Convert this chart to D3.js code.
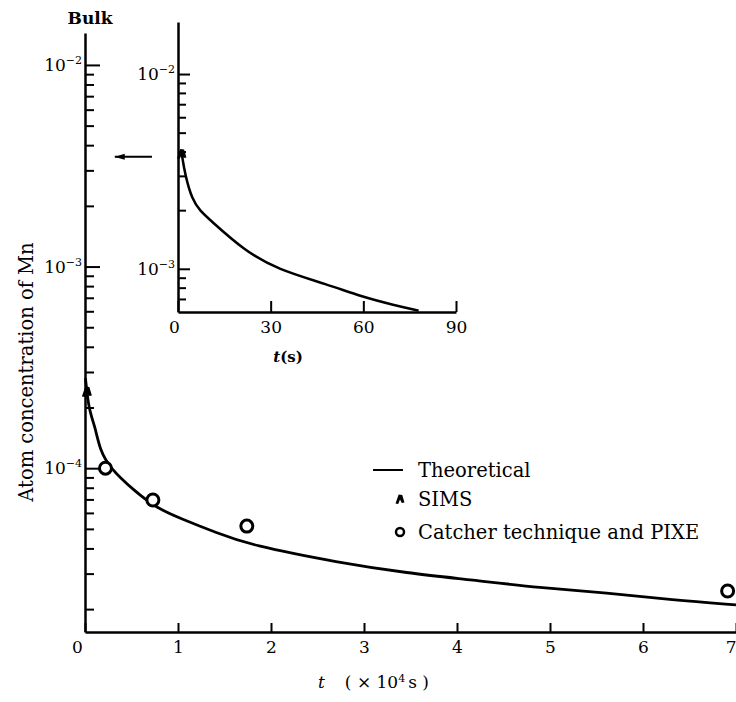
<!DOCTYPE html>
<html>
<head>
<meta charset="utf-8">
<script src="https://cdn.jsdelivr.net/npm/d3@7"></script>
<style>
  body { margin: 0; background: #fff; }
  svg { display: block; font-family: "DejaVu Serif", serif; }
  .domain { stroke: #000; stroke-width: 2.5; }
  .tick line { stroke: #000; stroke-width: 2; }
  .tick text { font-family: "DejaVu Serif", serif; font-size: 17px; fill: #000; }
</style>
</head>
<body>
<svg width="736" height="702"></svg>
<script>
// main plot: t in units of 10^4 s, atom concentration of Mn
const mainT = [0.005, 0.04, 0.11, 0.16, 0.27, 0.52, 0.77, 1.02, 1.42, 1.77, 2.74, 3.46, 4.17, 4.89, 5.61, 6.32, 7.0];
const mainC = [2.8e-4, 1.95e-4, 1.6e-4, 1.23e-4, 1.0e-4, 7.8e-5, 6.34e-5, 5.65e-5, 4.77e-5, 4.16e-5, 3.39e-5, 3.02e-5, 2.79e-5, 2.55e-5, 2.41e-5, 2.22e-5, 2.1e-5];
const catcherT = [0.22, 0.73, 1.74, 6.91];
const catcherC = [1.0e-4, 6.95e-5, 5.16e-5, 2.46e-5];
const simsT = [0.02];
const simsC = [2.4e-4];
const bulkC = 3.5e-3;

// inset: t in s
const insetT = [1.2, 2.3, 4.6, 7.2, 10.4, 21.2, 32.3, 48.6, 59.3, 70.1, 77.9];
const insetC = [3.9e-3, 3.03e-3, 2.26e-3, 1.98e-3, 1.78e-3, 1.25e-3, 9.9e-4, 8.3e-4, 7.2e-4, 6.5e-4, 6.1e-4];
const insetSimsT = [1.2];
const insetSimsC = [3.9e-3];

// ticks
const mainXTicks = [0, 1, 2, 3, 4, 5, 6, 7];
const mainYMajor = [1e-2, 1e-3, 1e-4];
const mainYLabels = ["−2", "−3", "−4"];
const insetXTicks = [0, 30, 60, 90];
const insetYMajor = [1e-2, 1e-3];
const insetYLabels = ["−2", "−3"];
const legendLabels = ["Theoretical", "SIMS", "Catcher technique and PIXE"];

const svg = d3.select("svg");

const x = d3.scaleLinear().domain([0, 7]).range([85, 736]);
const y = d3.scaleLog().domain([1.54e-5, 1.44e-2]).range([632, 33]);

const ix = d3.scaleLinear().domain([0, 90]).range([178, 456]);
const iy = d3.scaleLog().domain([6e-4, 1.85e-2]).range([312, 22]);

// caret-like marker used for SIMS
const simsSymbol = {
  draw(ctx, size) {
    const s = Math.sqrt(size) / 2;
    ctx.moveTo(-s, s);
    ctx.lineTo(-0.3 * s, -s);
    ctx.lineTo(0.5 * s, -0.9 * s);
    ctx.lineTo(s, 0.8 * s);
    ctx.lineTo(0.4 * s, 0.9 * s);
    ctx.lineTo(0, 0.1 * s);
    ctx.lineTo(-0.4 * s, 1.1 * s);
    ctx.closePath();
  }
};

function minorTicks(scale, majors) {
  const [lo] = scale.domain();
  return scale.ticks().filter(v => !majors.some(m => Math.abs(v - m) / m < 1e-6) && v > lo * 1.05);
}

function drawYAxis(g, scale, xPos, majors, labels, majorLen, minorLen) {
  g.append("g")
    .attr("transform", "translate(" + xPos + ",0)")
    .call(d3.axisRight(scale).tickValues(majors).tickSize(majorLen).tickSizeOuter(0).tickFormat(""));
  g.append("g")
    .attr("transform", "translate(" + xPos + ",0)")
    .call(d3.axisRight(scale).tickValues(minorTicks(scale, majors)).tickSize(minorLen).tickSizeOuter(0).tickFormat(""))
    .select(".domain").remove();

  let lab = g.append("g")
    .selectAll("text")
    .data(majors)
    .join("text")
    .attr("x", xPos - 3)
    .attr("y", d => scale(d) + 6)
    .attr("text-anchor", "end")
    .style("font-size", "17px");
  lab.append("tspan").text("10");
  lab.append("tspan")
    .attr("dy", -7)
    .style("font-size", "11px")
    .text((d, i) => labels[i]);
}

// ---- main plot ----
const main = svg.append("g");

main.append("g")
  .attr("transform", "translate(0,632)")
  .call(d3.axisBottom(x).tickValues(mainXTicks).tickFormat(d3.format("d"))
    .tickSizeInner(-9).tickSizeOuter(0).tickPadding(9))
  .call(g => g.selectAll(".tick text").filter(d => d === 0).attr("dx", -8))
  .call(g => g.selectAll(".tick text").filter(d => d === 7).attr("text-anchor", "end").attr("dx", 0));

drawYAxis(main, y, 85, mainYMajor, mainYLabels, 15, 9);

const line = d3.line()
  .x(d => x(d[0]))
  .y(d => y(d[1]))
  .curve(d3.curveBasis);

main.append("path")
  .datum(d3.zip(mainT, mainC))
  .attr("d", line)
  .attr("fill", "none")
  .attr("stroke", "#000")
  .attr("stroke-width", 2.8);

main.append("g")
  .selectAll("circle")
  .data(d3.zip(catcherT, catcherC))
  .join("circle")
  .attr("cx", d => x(d[0]))
  .attr("cy", d => y(d[1]))
  .attr("r", 6)
  .attr("fill", "#fff")
  .attr("stroke", "#000")
  .attr("stroke-width", 3);

main.append("g")
  .selectAll("path")
  .data(d3.zip(simsT, simsC))
  .join("path")
  .attr("transform", d => "translate(" + x(d[0]) + "," + y(d[1]) + ")")
  .attr("d", d3.symbol(simsSymbol, 100))
  .attr("fill", "#000");

// bulk label and arrow
svg.append("text")
  .attr("x", 90)
  .attr("y", 24)
  .attr("text-anchor", "middle")
  .style("font-size", "17px")
  .style("font-weight", "bold")
  .text("Bulk");

svg.append("defs").append("marker")
  .attr("id", "arrow")
  .attr("viewBox", "0 -5 10 10")
  .attr("refX", 10)
  .attr("markerWidth", 10)
  .attr("markerHeight", 10)
  .attr("markerUnits", "userSpaceOnUse")
  .attr("orient", "auto")
  .append("path")
  .attr("d", "M0,-3L10,0L0,3Z");

svg.append("line")
  .attr("x1", x(0.72))
  .attr("x2", x(0.32))
  .attr("y1", y(bulkC))
  .attr("y2", y(bulkC))
  .attr("stroke", "#000")
  .attr("stroke-width", 2)
  .attr("marker-end", "url(#arrow)");

// axis titles
svg.append("text")
  .attr("transform", "translate(33,372) rotate(-90)")
  .attr("text-anchor", "middle")
  .style("font-size", "19.5px")
  .text("Atom concentration of Mn");

let xt = svg.append("text")
  .attr("x", 318)
  .attr("y", 688)
  .style("font-size", "17px");
xt.append("tspan").style("font-style", "italic").text("t");
xt.append("tspan").attr("dx", 20).text("( × 10");
xt.append("tspan").attr("dy", -6).style("font-size", "11px").text("4");
xt.append("tspan").attr("dy", 6).attr("dx", 3).text("s )");

// ---- inset ----
const inset = svg.append("g");

inset.append("g")
  .attr("transform", "translate(0,312)")
  .call(d3.axisBottom(ix).tickValues(insetXTicks).tickFormat(d3.format("d"))
    .tickSizeInner(-11).tickSizeOuter(0).tickPadding(9))
  .call(g => g.selectAll(".tick text").filter(d => d === 0).attr("dx", -4));

drawYAxis(inset, iy, 178, insetYMajor, insetYLabels, 12, 8);

const iline = d3.line()
  .x(d => ix(d[0]))
  .y(d => iy(d[1]))
  .curve(d3.curveBasis);

inset.append("path")
  .datum(d3.zip(insetT, insetC))
  .attr("d", iline)
  .attr("fill", "none")
  .attr("stroke", "#000")
  .attr("stroke-width", 2.5);

inset.append("g")
  .selectAll("path")
  .data(d3.zip(insetSimsT, insetSimsC))
  .join("path")
  .attr("transform", d => "translate(" + ix(d[0]) + "," + iy(d[1]) + ")")
  .attr("d", d3.symbol(simsSymbol, 90))
  .attr("fill", "#000");

let it = inset.append("text")
  .attr("x", 288)
  .attr("y", 362)
  .attr("text-anchor", "middle")
  .style("font-size", "15px")
  .style("font-weight", "bold");
it.append("tspan").style("font-style", "italic").text("t");
it.append("tspan").text("(s)");

// ---- legend ----
const legend = svg.append("g").attr("transform", "translate(373,470)");

let rows = legend.selectAll("g")
  .data(legendLabels)
  .join("g")
  .attr("transform", (d, i) => "translate(0," + [0, 29, 62][i] + ")");

rows.append("text")
  .attr("x", 45)
  .attr("y", 7)
  .style("font-size", "19.5px")
  .text(d => d);

rows.filter((d, i) => i === 0).append("line")
  .attr("x1", 0)
  .attr("x2", 30)
  .attr("stroke", "#000")
  .attr("stroke-width", 2);

rows.filter((d, i) => i === 1).append("path")
  .attr("transform", "translate(27,0)")
  .attr("d", d3.symbol(simsSymbol, 80))
  .attr("fill", "#000");

rows.filter((d, i) => i === 2).append("circle")
  .attr("cx", 27)
  .attr("r", 4)
  .attr("fill", "#fff")
  .attr("stroke", "#000")
  .attr("stroke-width", 2.5);
</script>
</body>
</html>
